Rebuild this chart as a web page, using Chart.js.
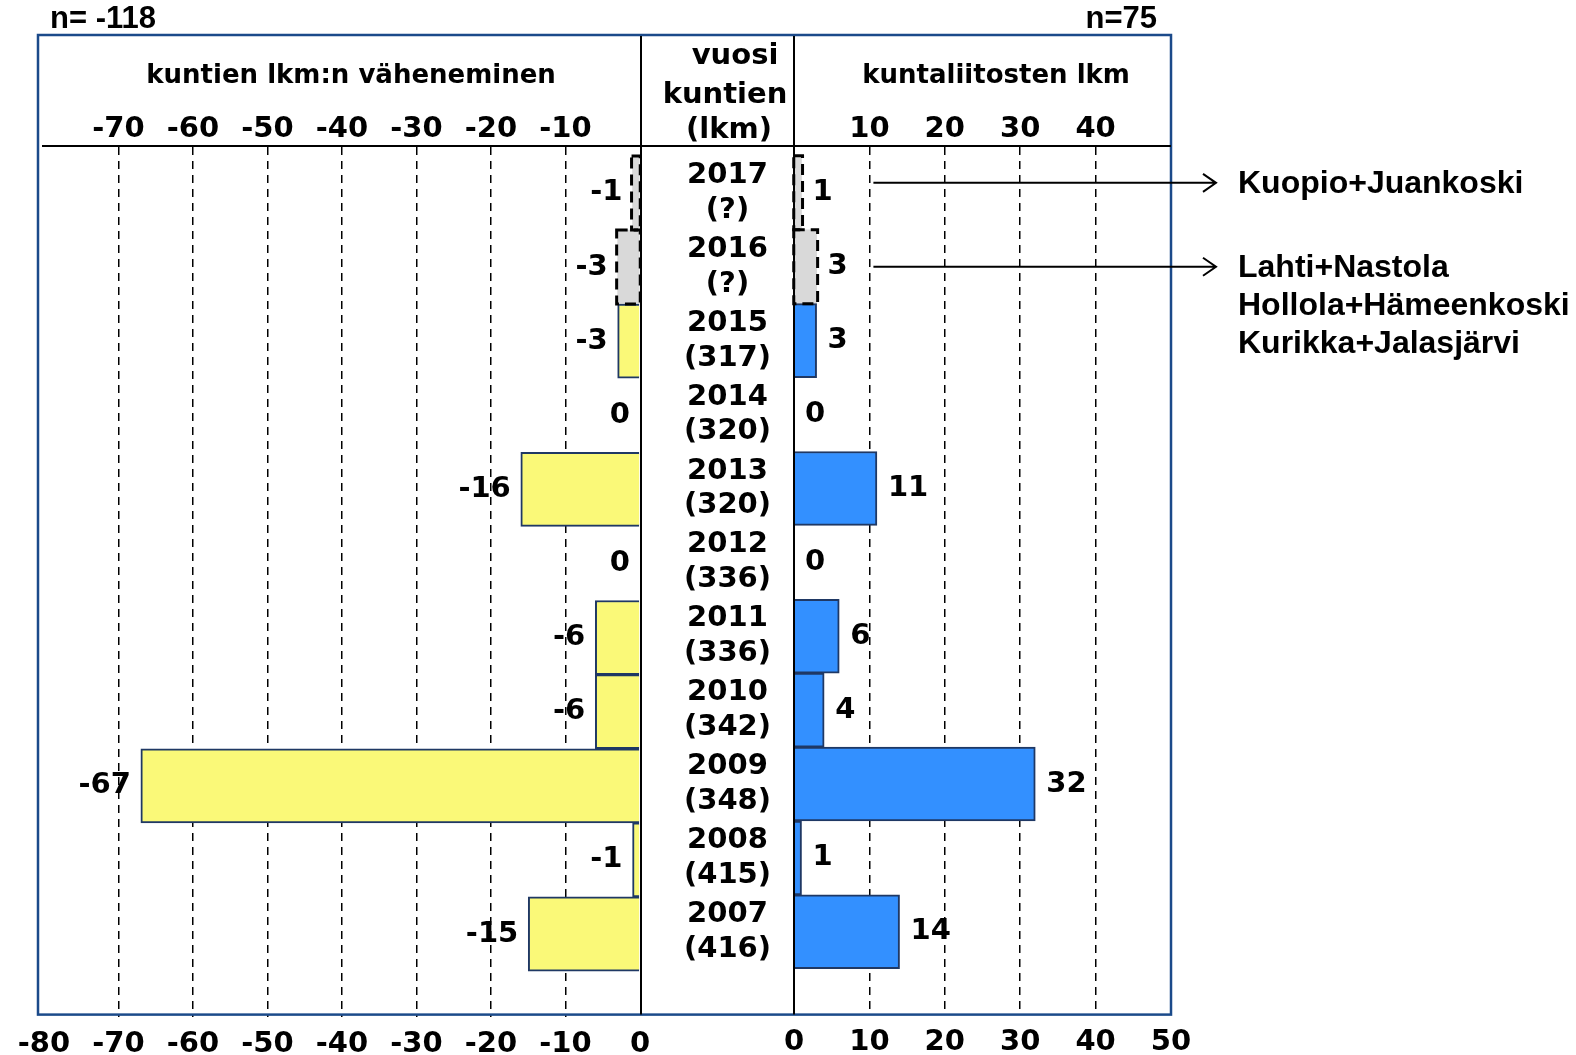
<!DOCTYPE html>
<html lang="fi">
<head>
<meta charset="utf-8">
<title>Kuntien lukumäärän väheneminen ja kuntaliitokset 2007–2017</title>
<script src="https://cdn.jsdelivr.net/npm/chart.js@4.4.1/dist/chart.umd.min.js"></script>
<style>
  html, body { margin: 0; padding: 0; background: #fff; width: 1576px; height: 1055px; overflow: hidden; }
  #wrap { position: relative; width: 1576px; height: 1055px; }
  #wrap canvas { position: absolute; left: 0; top: 0; }
</style>
</head>
<body>
<div id="wrap">
  <canvas id="leftChart" width="1576" height="1055"></canvas>
  <canvas id="rightChart" width="1576" height="1055"></canvas>
</div>
<script>
// rows from top to bottom
const years = ["2017", "2016", "2015", "2014", "2013", "2012", "2011", "2010", "2009", "2008", "2007"];
const municipalityCounts = ["(?)", "(?)", "(317)", "(320)", "(320)", "(336)", "(336)", "(342)", "(348)", "(415)", "(416)"];
const decrease = [-1, -3, -3, 0, -16, 0, -6, -6, -67, -1, -15];
const mergers = [1, 3, 3, 0, 11, 0, 6, 4, 32, 1, 14];
const preliminary = [true, true, false, false, false, false, false, false, false, false, false];

const leftTicks = [-80, -70, -60, -50, -40, -30, -20, -10, 0];
const rightTicks = [0, 10, 20, 30, 40, 50];

const totalDecrease = "n= -118";
const totalMergers = "n=75";

const notes = [
  { row: -0.135, lines: ["Kuopio+Juankoski"] },
  { row: 1, lines: ["Lahti+Nastola", "Hollola+Hämeenkoski", "Kurikka+Jalasjärvi"] },
];

const FONT = "'DejaVu Sans', Verdana, sans-serif";
const ARIAL = "'Liberation Sans', Arial, sans-serif";
const YELLOW = "#faf978";
const BLUE = "#3390ff";
const NAVY = "#1f3864";
const GRAY = "#d9d9d9";
const FRAME = "#1b4a8a";

function rowScale(display) {
  const s = {
    type: "linear",
    reverse: true,
    offset: false,
    min: -0.62,
    max: 11.12,
    display: display,
    grid: { display: false, drawTicks: false, offset: false },
    border: { display: false },
    ticks: {
      stepSize: 1,
      includeBounds: false,
      autoSkip: false,
      padding: 23,
      crossAlign: "center",
      color: "#000",
      font: { family: FONT, size: 29, weight: "bold", lineHeight: 1.2 },
      callback: (v) =>
        Number.isInteger(v) && v >= 0 && v < years.length ? [years[v], municipalityCounts[v]] : "",
    },
  };
  if (display) s.afterFit = (sc) => { sc.width = 154; };
  return s;
}

function valueScales(ticks, title) {
  const lo = ticks[0], hi = ticks[ticks.length - 1];
  const tickFont = { family: FONT, size: 29, weight: "bold" };
  return {
    x: {
      type: "linear",
      position: "bottom",
      min: lo,
      max: hi,
      ticks: {
        stepSize: 10,
        autoSkip: false,
        maxRotation: 0,
        padding: 10,
        color: "#000",
        font: tickFont,
        callback: (v) => String(v),
      },
      grid: {
        drawTicks: false,
        lineWidth: 1.5,
        color: (ctx) => (ctx.tick && (ctx.tick.value === lo || ctx.tick.value === hi) ? "rgba(0,0,0,0)" : "#000"),
      },
      border: { display: false, dash: [8, 6] },
      afterFit: (s) => { s.height = 38; },
    },
    xTop: {
      type: "linear",
      axis: "x",
      position: "top",
      min: lo,
      max: hi,
      ticks: {
        stepSize: 10,
        autoSkip: false,
        maxRotation: 0,
        padding: 0,
        color: "#000",
        font: tickFont,
        callback: (v) => (v === lo || v === hi ? "" : String(v)),
      },
      grid: { display: false, drawTicks: false },
      border: { display: false },
      title: {
        display: true,
        text: title,
        color: "#000",
        font: { family: FONT, size: 26, weight: "bold" },
        padding: { top: 61, bottom: 0 },
      },
      afterFit: (s) => { s.height = 147; },
    },
  };
}

// value next to each bar
const barValueLabels = {
  id: "barValueLabels",
  afterDatasetsDraw(chart, args, opts) {
    const { ctx } = chart;
    const meta = chart.getDatasetMeta(0);
    const values = opts.values;
    ctx.save();
    ctx.font = "bold 29px " + FONT;
    ctx.fillStyle = "#000";
    ctx.textBaseline = "middle";
    meta.data.forEach((bar, i) => {
      const { x, y, base } = bar.getProps(["x", "y", "base"], true);
      if (opts.side === "left") {
        ctx.textAlign = "right";
        ctx.fillText(String(values[i]), Math.min(x, base) - 10, y);
      } else {
        ctx.textAlign = "left";
        ctx.fillText(String(values[i]), Math.max(x, base) + 11, y);
      }
    });
    ctx.restore();
  },
};

// dashed outline for the not yet confirmed years
const dashedBars = {
  id: "dashedBars",
  afterDatasetsDraw(chart) {
    const { ctx } = chart;
    const meta = chart.getDatasetMeta(0);
    ctx.save();
    ctx.strokeStyle = "#000";
    ctx.lineWidth = 3;
    ctx.setLineDash([11, 6]);
    meta.data.forEach((bar, i) => {
      if (!preliminary[i]) return;
      const { x, y, base, height } = bar.getProps(["x", "y", "base", "height"], true);
      const l = Math.min(x, base), r = Math.max(x, base);
      ctx.strokeRect(l - 1, y - height / 2, r - l + 2, height);
    });
    ctx.restore();
  },
};

// frame, column lines, headers and notes
const decorations = {
  id: "decorations",
  afterDraw(chart) {
    const { ctx, chartArea } = chart;
    const xs = chart.scales.x, ys = chart.scales.y;
    ctx.save();
    ctx.strokeStyle = FRAME;
    ctx.lineWidth = 2.5;
    ctx.strokeRect(38, 35, chartArea.right - 38, chartArea.bottom - 35);

    ctx.strokeStyle = "#000";
    ctx.lineWidth = 2;
    ctx.beginPath();
    ctx.moveTo(42, chartArea.top - 1);
    ctx.lineTo(chartArea.right, chartArea.top - 1);
    ctx.moveTo(ys.left + 1, 36);
    ctx.lineTo(ys.left + 1, chartArea.bottom);
    ctx.moveTo(xs.left, 36);
    ctx.lineTo(xs.left, chartArea.bottom);
    ctx.stroke();

    ctx.fillStyle = "#000";
    ctx.textBaseline = "middle";
    ctx.textAlign = "center";
    ctx.font = "bold 29px " + FONT;
    const cx = (ys.left + ys.right) / 2 + 8;
    ctx.fillText("vuosi", cx + 10, 56);
    ctx.fillText("kuntien", cx, 95);
    ctx.fillText("(lkm)", cx + 4, 130);

    ctx.font = "bold 31px " + ARIAL;
    ctx.textAlign = "left";
    ctx.fillText(totalDecrease, 50, 19);
    ctx.textAlign = "right";
    ctx.fillText(totalMergers, 1157, 19);

    ctx.lineWidth = 2;
    ctx.font = "bold 32px " + ARIAL;
    ctx.textAlign = "left";
    const x0 = xs.getPixelForValue(10) + 4;
    const tip = 1216;
    notes.forEach((n) => {
      const y = ys.getPixelForValue(n.row);
      ctx.beginPath();
      ctx.moveTo(x0, y);
      ctx.lineTo(tip, y);
      ctx.moveTo(tip - 13, y - 9);
      ctx.lineTo(tip, y);
      ctx.lineTo(tip - 13, y + 9);
      ctx.stroke();
      n.lines.forEach((t, k) => ctx.fillText(t, 1238, y + 1 + k * 38));
    });
    ctx.restore();
  },
};

const common = {
  responsive: false,
  animation: false,
  devicePixelRatio: 1,
  indexAxis: "y",
  events: [],
  barPercentage: 1,
  categoryPercentage: 1,
};

new Chart(document.getElementById("leftChart"), {
  type: "bar",
  data: {
    datasets: [
      {
        data: decrease.map((v, i) => ({ x: v, y: i })),
        xAxisID: "x",
        yAxisID: "y",
        backgroundColor: (c) => (preliminary[c.dataIndex] ? GRAY : YELLOW),
        borderColor: NAVY,
        borderWidth: (c) => (preliminary[c.dataIndex] ? 0 : 2),
      },
    ],
  },
  options: {
    ...common,
    layout: { padding: { left: 44, right: 1576 - 640, top: 0, bottom: 0 } },
    scales: { ...valueScales(leftTicks, "\u00a0\u00a0kuntien lkm:n väheneminen"), y: rowScale(false) },
    plugins: {
      legend: { display: false },
      tooltip: { enabled: false },
      barValueLabels: { side: "left", values: decrease },
    },
  },
  plugins: [dashedBars, barValueLabels],
});

new Chart(document.getElementById("rightChart"), {
  type: "bar",
  data: {
    datasets: [
      {
        data: mergers.map((v, i) => ({ x: v, y: i })),
        xAxisID: "x",
        yAxisID: "y",
        backgroundColor: (c) => (preliminary[c.dataIndex] ? GRAY : BLUE),
        borderColor: NAVY,
        borderWidth: (c) => (preliminary[c.dataIndex] ? 0 : 2),
      },
    ],
  },
  options: {
    ...common,
    layout: { padding: { left: 640, right: 1576 - 1171, top: 0, bottom: 0 } },
    scales: { ...valueScales(rightTicks, "\u00a0\u00a0\u00a0kuntaliitosten lkm"), y: rowScale(true) },
    plugins: {
      legend: { display: false },
      tooltip: { enabled: false },
      barValueLabels: { side: "right", values: mergers },
    },
  },
  plugins: [dashedBars, barValueLabels, decorations],
});
</script>
</body>
</html>
